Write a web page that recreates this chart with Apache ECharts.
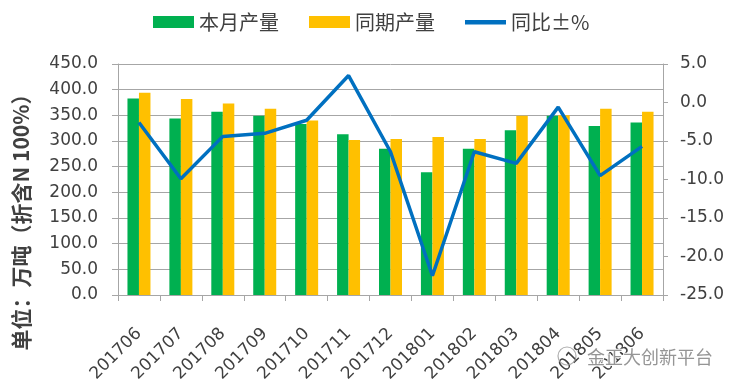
<!DOCTYPE html>
<html>
<head>
<meta charset="utf-8">
<script src="https://cdn.jsdelivr.net/npm/echarts@6/dist/echarts.min.js"></script>
<style>html,body{margin:0;padding:0;background:#fff}#c{width:735px;height:387px}</style>
</head>
<body>
<div id="c"></div>
<script>
var categories = ['201706','201707','201708','201709','201710','201711','201712','201801','201802','201803','201804','201805','201806'];
var currentOutput = [383, 344, 357, 349, 333, 313, 285, 239, 285, 321, 349, 329, 336];
var lastYearOutput = [394, 382, 373, 363, 340, 302, 304, 308, 304, 349, 350, 363, 357];
var yoyPercent = [-2.6, -9.9, -4.4, -4.0, -2.3, 3.5, -6.4, -22.5, -6.4, -7.9, -0.6, -9.5, -5.7];
var seriesNames = ['本月产量', '同期产量', '同比±%'];
var axisTitle = '单位：万吨（折含N 100%）';
var watermark = '金正大创新平台';

var chart = echarts.init(document.getElementById('c'), null, {renderer: 'canvas'});
var txt = '#404040';
var gridCol = '#a6a6a6';
chart.setOption({
  animation: false,
  backgroundColor: '#fff',
  textStyle: {fontFamily: 'DejaVu Sans'},
  legend: {
    left: 148, top: 7,
    itemWidth: 41, itemHeight: 12, itemGap: 30,
    textStyle: {fontFamily: 'Noto Sans CJK SC', fontSize: 20, color: txt},
    data: [
      {name: seriesNames[0], icon: 'rect'},
      {name: seriesNames[1], icon: 'rect'},
      {name: seriesNames[2], icon: 'path://M0,0 M0,4 L41,4 L41,8.5 L0,8.5 Z M41,12'}
    ]
  },
  grid: {left: 118, right: 72, top: 64, bottom: 92, containLabel: false},
  xAxis: {
    type: 'category',
    data: categories,
    axisLine: {lineStyle: {color: gridCol, width: 1}},
    axisTick: {show: true, length: 6, lineStyle: {color: gridCol}},
    axisLabel: {rotate: 45, margin: 36, fontSize: 17, color: txt, interval: 0, fontFamily: 'DejaVu Sans'}
  },
  yAxis: [
    {
      type: 'value', min: 0, max: 450, interval: 50,
      axisLine: {show: true, lineStyle: {color: gridCol}},
      axisTick: {show: true, length: 6, lineStyle: {color: gridCol}},
      splitLine: {show: true, lineStyle: {color: gridCol, width: 1}},
      axisLabel: {margin: 20, fontSize: 17, color: txt, formatter: function(v){return v.toFixed(1);}}
    },
    {
      type: 'value', min: -25, max: 5, interval: 5,
      position: 'right',
      axisLine: {show: true, lineStyle: {color: gridCol}},
      axisTick: {show: true, length: 5, lineStyle: {color: gridCol}},
      splitLine: {show: false},
      axisLabel: {margin: 17, fontSize: 17, color: txt, formatter: function(v){return v.toFixed(1);}}
    }
  ],
  series: [
    {name: seriesNames[0], type: 'bar', data: currentOutput, barWidth: 11.5, barGap: '0%', itemStyle: {color: '#00B050'}},
    {name: seriesNames[1], type: 'bar', data: lastYearOutput, barWidth: 11.5, barGap: '0%', itemStyle: {color: '#FFC000'}},
    {name: seriesNames[2], type: 'line', yAxisIndex: 1, data: yoyPercent, symbol: 'none', lineStyle: {color: '#0070C0', width: 3.5}, itemStyle: {color: '#0070C0'}, z: 5}
  ],
  graphic: [
    {
      type: 'text', x: 21, y: 217, rotation: Math.PI / 2,
      style: {text: axisTitle, fill: txt, font: 'bold 21px "Noto Sans CJK SC"', textAlign: 'center', textVerticalAlign: 'middle'}
    },
    {
      type: 'circle', shape: {cx: 567, cy: 356, r: 9}, style: {fill: 'none', stroke: '#9a9a9a', lineWidth: 1.2, opacity: 0.8}, z: 100
    },
    {
      type: 'text', x: 587, y: 357,
      style: {text: watermark, fill: '#8a8a8a', stroke: '#fff', lineWidth: 2, font: '18px "Noto Sans CJK SC"', textAlign: 'left', textVerticalAlign: 'middle', opacity: 0.9}, z: 100
    }
  ]
});
</script>
</body>
</html>
